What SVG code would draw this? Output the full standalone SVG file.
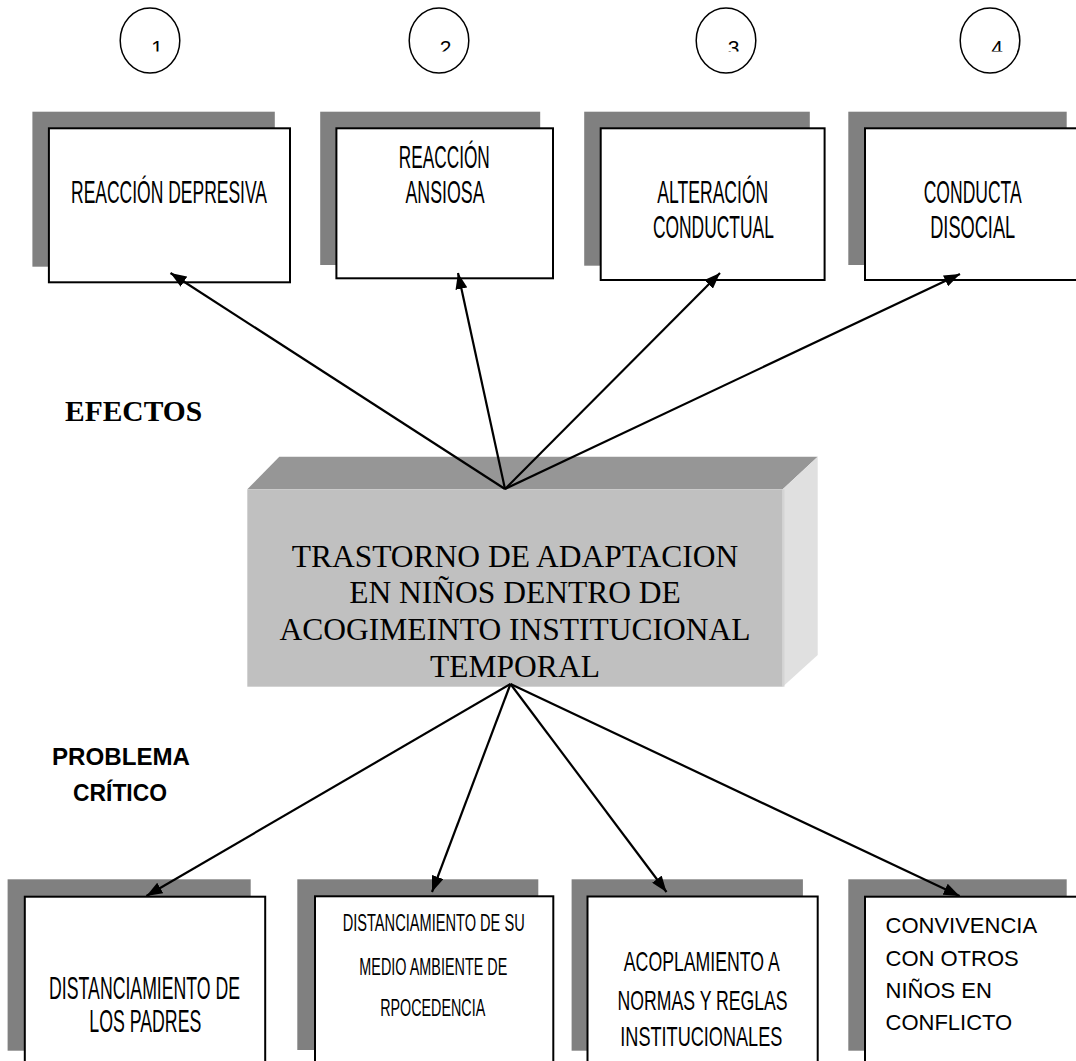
<svg xmlns="http://www.w3.org/2000/svg" width="1076" height="1061" viewBox="0 0 1076 1061">
  <style>
    .shadow { fill: #808080; }
    .box { fill: #ffffff; stroke: #000000; stroke-width: 2; }
    .cond { font-family: "Liberation Sans Narrow", "Liberation Sans", Arial, sans-serif; fill: #000000; text-anchor: middle; }
    .conn { stroke: #000000; stroke-width: 2.2; fill: none; marker-end: url(#arr); }
    .ring { fill: #ffffff; stroke: #000000; stroke-width: 1.5; }
    .num { font-family: "Liberation Sans", Arial, sans-serif; font-size: 21px; fill: #000000; text-anchor: middle; }
    .serif { font-family: "Liberation Serif", "Times New Roman", serif; fill: #000000; }
  </style>
  <defs>
    <marker id="arr" viewBox="0 0 16 12" refX="16" refY="6" markerWidth="16" markerHeight="12" markerUnits="userSpaceOnUse" orient="auto">
      <path d="M0,0 L16,6 L0,12 z" fill="#000000"/>
    </marker>
    <clipPath id="numclip" clipPathUnits="userSpaceOnUse">
      <rect x="0" y="0" width="1076" height="51.5"/>
    </clipPath>
  </defs>
  <rect x="0" y="0" width="1076" height="1061" fill="#ffffff"/>

  <!-- number circles -->
  <g id="circle-1">
    <ellipse class="ring" cx="150" cy="40.5" rx="29.8" ry="32.5"/>
    <text class="num" x="157" y="54.5" clip-path="url(#numclip)">1</text>
  </g>
  <g id="circle-2">
    <ellipse class="ring" cx="439" cy="40.5" rx="29.8" ry="32.5"/>
    <text class="num" x="445.5" y="54.5" clip-path="url(#numclip)">2</text>
  </g>
  <g id="circle-3">
    <ellipse class="ring" cx="726" cy="40.5" rx="29.8" ry="32.5"/>
    <text class="num" x="733.5" y="54.5" clip-path="url(#numclip)">3</text>
  </g>
  <g id="circle-4">
    <ellipse class="ring" cx="990" cy="40.5" rx="29.8" ry="32.5"/>
    <text class="num" x="997" y="54.5" clip-path="url(#numclip)">4</text>
  </g>

  <!-- top effect boxes -->
  <g id="efecto-1">
    <rect class="shadow" x="32.4" y="111.7" width="242.4" height="155"/>
    <rect class="box" x="48.9" y="128.3" width="241.1" height="154"/>
    <text class="cond" x="169" y="202.7" font-size="31.5" textLength="196" lengthAdjust="spacingAndGlyphs">REACCIÓN DEPRESIVA</text>
  </g>
  <g id="efecto-2">
    <rect class="shadow" x="320.2" y="111.7" width="220" height="153.3"/>
    <rect class="box" x="336.4" y="128.3" width="216.6" height="150"/>
    <text class="cond" x="444.3" y="167.7" font-size="31.5" textLength="91" lengthAdjust="spacingAndGlyphs">REACCIÓN</text>
    <text class="cond" x="445" y="202.7" font-size="31.5" textLength="79" lengthAdjust="spacingAndGlyphs">ANSIOSA</text>
  </g>
  <g id="efecto-3">
    <rect class="shadow" x="584.2" y="111.7" width="225.6" height="154"/>
    <rect class="box" x="600.7" y="128.3" width="223.9" height="151.7"/>
    <text class="cond" x="712.8" y="203.3" font-size="31.5" textLength="111" lengthAdjust="spacingAndGlyphs">ALTERACIÓN</text>
    <text class="cond" x="713.4" y="238.3" font-size="31.5" textLength="121" lengthAdjust="spacingAndGlyphs">CONDUCTUAL</text>
  </g>
  <g id="efecto-4">
    <rect class="shadow" x="848.3" y="111.7" width="218.4" height="153.3"/>
    <rect class="box" x="865" y="128.3" width="213" height="151.7"/>
    <text class="cond" x="972.7" y="202.5" font-size="31.5" textLength="98" lengthAdjust="spacingAndGlyphs">CONDUCTA</text>
    <text class="cond" x="972.7" y="237.7" font-size="31.5" textLength="85" lengthAdjust="spacingAndGlyphs">DISOCIAL</text>
  </g>

  <!-- side labels -->
  <g id="label-efectos">
    <text class="serif" x="65" y="420.7" font-size="29.5" font-weight="bold">EFECTOS</text>
  </g>
  <g id="label-problema">
    <text x="121" y="765" font-family="'Liberation Sans', Arial, sans-serif" font-size="23.5" font-weight="bold" text-anchor="middle" textLength="138" lengthAdjust="spacingAndGlyphs">PROBLEMA</text>
    <text x="120" y="801" font-family="'Liberation Sans', Arial, sans-serif" font-size="23.5" font-weight="bold" text-anchor="middle" textLength="94" lengthAdjust="spacingAndGlyphs">CRÍTICO</text>
  </g>

  <!-- central 3D block -->
  <g id="problema-central">
    <polygon points="279.3,456.7 817.7,456.7 782.7,489.3 247.3,489.3" fill="#969696"/>
    <polygon points="782.7,489.3 817.7,456.7 817.7,655 782.7,686.7" fill="#e0e0e0"/>
    <rect x="247.3" y="489.3" width="535.4" height="197.4" fill="#c0c0c0"/>
    <line x1="783.5" y1="489.3" x2="783.5" y2="686.7" stroke="#d4d4d4" stroke-width="2"/>
    <g class="serif" font-size="31.5" text-anchor="middle">
      <text x="515" y="567.3">TRASTORNO DE ADAPTACION</text>
      <text x="515" y="603.3">EN NIÑOS DENTRO DE</text>
      <text x="515" y="640">ACOGIMEINTO INSTITUCIONAL</text>
      <text x="515" y="676.7">TEMPORAL</text>
    </g>
  </g>

  <!-- bottom cause boxes -->
  <g id="causa-1">
    <rect class="shadow" x="7.6" y="879.3" width="243.1" height="171.4"/>
    <rect class="box" x="24.8" y="896.7" width="240.4" height="200"/>
    <text class="cond" x="144.6" y="999.3" font-size="31" textLength="191" lengthAdjust="spacingAndGlyphs">DISTANCIAMIENTO DE</text>
    <text class="cond" x="145.3" y="1031.7" font-size="31" textLength="112" lengthAdjust="spacingAndGlyphs">LOS PADRES</text>
  </g>
  <g id="causa-2">
    <rect class="shadow" x="297.3" y="879.3" width="241" height="170.7"/>
    <rect class="box" x="315" y="896.3" width="238.3" height="200"/>
    <text class="cond" x="433.7" y="931" font-size="24.7" textLength="182" lengthAdjust="spacingAndGlyphs">DISTANCIAMIENTO DE SU</text>
    <text class="cond" x="433.3" y="975" font-size="24.7" textLength="148" lengthAdjust="spacingAndGlyphs">MEDIO AMBIENTE DE</text>
    <text class="cond" x="432.7" y="1015.7" font-size="24.7" textLength="105" lengthAdjust="spacingAndGlyphs">RPOCEDENCIA</text>
  </g>
  <g id="causa-3">
    <rect class="shadow" x="571.6" y="879.3" width="231.3" height="171.4"/>
    <rect class="box" x="587.5" y="896.5" width="230.2" height="200"/>
    <text class="cond" x="701.8" y="971" font-size="28.5" textLength="156" lengthAdjust="spacingAndGlyphs">ACOPLAMIENTO A</text>
    <text class="cond" x="702.6" y="1010" font-size="28.5" textLength="170" lengthAdjust="spacingAndGlyphs">NORMAS Y REGLAS</text>
    <text class="cond" x="701.3" y="1046" font-size="28.5" textLength="162" lengthAdjust="spacingAndGlyphs">INSTITUCIONALES</text>
  </g>
  <g id="causa-4">
    <rect class="shadow" x="848.3" y="879.3" width="218.4" height="171.4"/>
    <rect class="box" x="865" y="896.7" width="213" height="200"/>
    <g font-family="'Liberation Sans', Arial, sans-serif" font-size="22" fill="#000000">
      <text x="885.5" y="933.3">CONVIVENCIA</text>
      <text x="885.5" y="965.7">CON OTROS</text>
      <text x="885.5" y="998.3">NIÑOS EN</text>
      <text x="885.5" y="1030">CONFLICTO</text>
    </g>
  </g>

  <!-- connectors -->
  <g id="connectors">
    <line class="conn" x1="505" y1="489" x2="170.5" y2="273"/>
    <line class="conn" x1="505" y1="489" x2="458" y2="273"/>
    <line class="conn" x1="505" y1="489" x2="720" y2="273"/>
    <line class="conn" x1="505" y1="489" x2="960" y2="274"/>
    <line class="conn" x1="510.5" y1="684" x2="146.4" y2="896"/>
    <line class="conn" x1="510.5" y1="684" x2="432" y2="892"/>
    <line class="conn" x1="510.5" y1="684" x2="666.5" y2="892"/>
    <line class="conn" x1="510.5" y1="684" x2="959.6" y2="896"/>
  </g>
</svg>
